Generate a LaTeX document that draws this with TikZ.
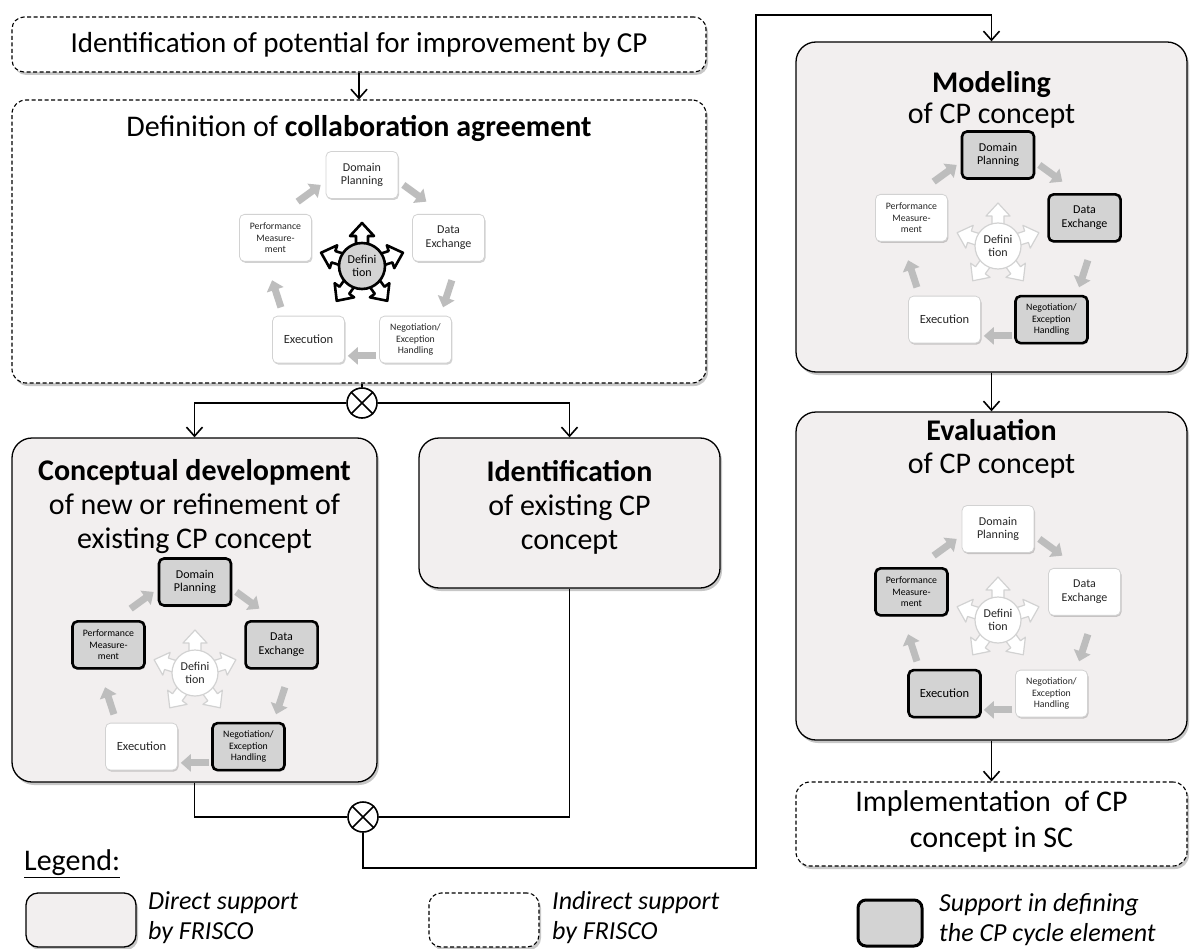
\documentclass[tikz,border=0pt]{standalone}
\usepackage{fontspec}
\setmainfont{Carlito}
\usetikzlibrary{arrows.meta,shadows}

\definecolor{boxfill}{HTML}{F2EFEF}
\definecolor{selfill}{HTML}{D3D3D3}
\definecolor{cycgray}{HTML}{BDBDBD}

% a node spanning the rectangle (x1,y1)-(x2,y2)
\newcommand\boxat[6]{%
  \pgfmathsetmacro\BXcx{(#3+#5)/2}%
  \pgfmathsetmacro\BXcy{(#4+#6)/2}%
  \pgfmathsetmacro\BXw{#5-#3}%
  \pgfmathsetmacro\BXh{#6-#4}%
  \node[#2, minimum width=\BXw pt, minimum height=\BXh pt, inner sep=0pt] (#1) at (\BXcx,\BXcy) {};%
}

% CP cycle: prefix, centre x, centre y, styles of the five elements, star style
\newcommand\cpcycle[9]{%
  \begin{scope}[shift={(#2,#3)}]
    \foreach \a in {-54,18,90,162,234}
      \draw[cycarrow] (\a-9:91) -- (\a+9:91);
    \node[cycbox,#4,font=\fontsize{12}{13.5}\selectfont] (#1dp) at (-90:91) {Domain\\Planning};
    \node[cycbox,#5,font=\fontsize{12}{14}\selectfont] (#1de) at (-18:91) {Data\\Exchange};
    \node[cycbox,#6,font=\fontsize{9.8}{11.5}\selectfont] (#1ne) at (54:91) {Negotiation/\\Exception\\Handling};
    \node[cycbox,#7,font=\fontsize{12.5}{14}\selectfont] (#1ex) at (126:91) {Execution};
    \node[cycbox,#8,font=\fontsize{9.8}{11.5}\selectfont] (#1pm) at (198:91) {Performance\\Measure-\\ment};
    \foreach \a in {-90,-18,54,126,198}
      \draw[#9arrow, rotate={0-(\a)}] (14,-6) -- (30,-6) -- (30,-12) -- (43,0)
        -- (30,12) -- (30,6) -- (14,6) -- cycle;
    \node[#9core] (#1df) at (0,0) {Defini\\tion};
  \end{scope}%
}

\begin{document}
\begin{tikzpicture}[x=1pt,y=-1pt,
  bigtxt/.style={font=\fontsize{30}{34}\selectfont, align=center, inner sep=0pt},
  legtxt/.style={font=\fontsize{26}{30}\selectfont\itshape, align=left, anchor=west, inner sep=0pt},
  shade box/.style={drop shadow={shadow xshift=2pt, shadow yshift=-3pt, fill=black, opacity=0.22}},
  direct/.style={draw=black, line width=1.3pt, fill=boxfill, rounded corners=20pt, shade box},
  indirect/.style={draw=black, line width=1.1pt, dash pattern=on 4pt off 2.5pt, fill=white,
    rounded corners=14pt, shade box},
  cycbox/.style={rectangle, rounded corners=5pt, draw=gray!35, line width=0.8pt, fill=white,
    minimum width=72pt, minimum height=47pt, align=center, inner sep=1pt, text=black!85,
    drop shadow={shadow xshift=1pt, shadow yshift=-1.5pt, fill=black, opacity=0.18}},
  cycplain/.style={},
  cycsel/.style={fill=selfill, draw=black, line width=2.6pt, text=black},
  cycarrow/.style={draw=cycgray, line width=7pt, -{Triangle[length=10pt,width=17pt]}},
  darkarrow/.style={fill=white, draw=black, line width=2.6pt, line join=round},
  darkcore/.style={circle, fill=selfill, draw=black, line width=2.6pt, minimum size=46pt,
    inner sep=0pt, align=center, font=\fontsize{12}{13}\selectfont},
  lightarrow/.style={fill=white, draw=gray!35, line width=1.2pt, line join=round},
  lightcore/.style={circle, fill=white, draw=gray!35, line width=1.2pt, minimum size=46pt,
    inner sep=0pt, align=center, font=\fontsize{12}{13}\selectfont, text=black!85},
  conn/.style={draw=black, line width=1.6pt},
  arr/.style={-{Straight Barb[length=9pt,width=16pt]}},
  xor/.style={circle, draw=black, line width=1.6pt, fill=white, minimum size=30pt, inner sep=0pt}
]
\useasboundingbox (0,0) rectangle (1190,949);
\fill[white] (0,0) rectangle (1190,949);

% process boxes
\boxat{top}{indirect, rounded corners=12pt}{12}{17}{706}{72}
\boxat{def}{indirect}{12}{100}{706}{383}
\boxat{concept}{direct}{12}{438}{377}{782}
\boxat{ident}{direct}{419}{438}{720}{588}
\boxat{model}{direct}{796}{42}{1187}{372}
\boxat{eval}{direct}{796}{412}{1187}{740}
\boxat{impl}{indirect}{796}{782}{1187}{866}

% box titles
\node[bigtxt, font=\fontsize{29}{34}\selectfont] (toptxt) at (top.center) {Identification of potential for improvement by CP};
\node[bigtxt] (deftxt) at (359,128) {Definition of \textbf{collaboration agreement}};
\node[bigtxt] (contxt) at (194.5,507) {\textbf{Conceptual development}\\of new or refinement of\\existing CP concept};
\node[bigtxt] (idtxt) at (569.5,507) {\textbf{Identification}\\of existing CP\\concept};
\node[bigtxt, font=\fontsize{30}{31}\selectfont] (modtxt) at (991.5,100) {\textbf{Modeling}\\of CP concept};
\node[bigtxt, font=\fontsize{30}{33}\selectfont] (evtxt) at (991.5,449) {\textbf{Evaluation}\\of CP concept};
\node[bigtxt, font=\fontsize{30}{36}\selectfont] (imtxt) at (991.5,821) {Implementation~ of CP\\concept in SC};

% CP cycles
\cpcycle{d}{362}{266}{cycplain}{cycplain}{cycplain}{cycplain}{cycplain}{dark}
\cpcycle{c}{195}{673}{cycsel}{cycsel}{cycsel}{cycplain}{cycsel}{light}
\cpcycle{m}{998}{246}{cycsel}{cycsel}{cycsel}{cycplain}{cycplain}{light}
\cpcycle{e}{998}{620}{cycplain}{cycplain}{cycplain}{cycsel}{cycsel}{light}

% control flow
\draw[conn,arr] (top.south) -- (def.north);
\node[xor] (x1) at (362,403) {};
\draw[conn] (x1.45) -- (x1.225) (x1.135) -- (x1.-45);
\draw[conn] (x1 |- def.south) -- (x1.north);
\draw[conn,arr] (x1.west) -| (concept.north);
\draw[conn,arr] (x1.east) -| (ident.north);

\node[xor] (x2) at (363,817) {};
\draw[conn] (x2.45) -- (x2.225) (x2.135) -- (x2.-45);
\draw[conn] (concept.south) |- (x2.west);
\draw[conn] (ident.south) |- (x2.east);
\coordinate (r1) at (756,868);
\coordinate (r2) at (756,15);
\draw[conn,arr] (x2.south) |- (r1) -- (r2) -| (model.north);
\draw[conn,arr] (model.south) -- (eval.north);
\draw[conn,arr] (eval.south) -- (impl.north);

% legend
\node[font=\fontsize{30}{34}\selectfont, anchor=west, inner sep=0pt] (legend) at (24,864) {\underline{Legend:}};
\boxat{lg1}{direct, rounded corners=12pt}{26}{893}{136}{947}
\node[legtxt] (lg1t) at (148,918) {Direct support\\by FRISCO};
\boxat{lg2}{indirect, rounded corners=12pt}{429}{893}{539}{947}
\node[legtxt] (lg2t) at (552,918) {Indirect support\\by FRISCO};
\boxat{lg3}{fill=selfill, draw=black, line width=3pt, rounded corners=8pt}{858}{900}{922}{946}
\node[legtxt] (lg3t) at (939,920) {Support in defining\\the CP cycle element};
\end{tikzpicture}
\end{document}
